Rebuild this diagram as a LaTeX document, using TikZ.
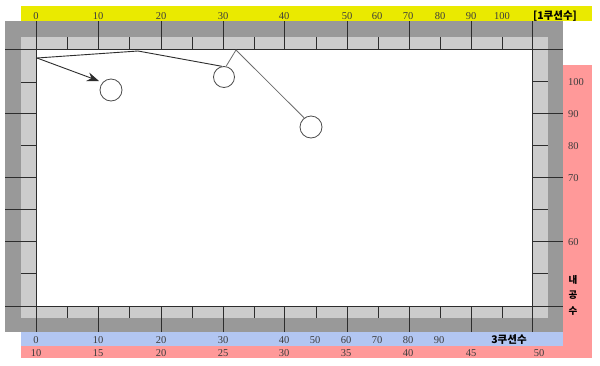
\documentclass[tikz,border=0pt]{standalone}
\usepackage{fontspec}
\setmainfont{Liberation Serif}
\newfontfamily\kr{Noto Sans CJK KR}
\usetikzlibrary{arrows.meta}
\definecolor{dg}{RGB}{153,153,153}
\definecolor{lg}{RGB}{204,204,204}
\definecolor{yb}{RGB}{234,234,0}
\definecolor{pk}{RGB}{255,153,153}
\definecolor{bl}{RGB}{178,198,242}
\definecolor{ln}{RGB}{45,45,45}
\definecolor{tx}{RGB}{60,60,60}
\tikzset{
 tk/.style={draw=ln, line width=0.9pt},
 numlab/.style={font=\fontsize{10.5}{12}\selectfont, text=tx, inner sep=0pt, anchor=base},
 krlab/.style={font=\kr\bfseries\fontsize{10.5}{12}\selectfont, inner sep=0pt, anchor=base},
 vlab/.style={font=\kr\bfseries\fontsize{9.5}{11}\selectfont, inner sep=0pt, anchor=center},
 ball/.style={circle, draw=ln!85, line width=0.8pt, minimum size=22pt, inner sep=0pt},
 pathA/.style={draw=ln, line width=0.9pt},
 pathB/.style={draw=ln!70, line width=0.8pt},
}
\begin{document}
\begin{tikzpicture}[x=1pt,y=-1pt]
\useasboundingbox[fill=white] (0,0) rectangle (600,365);
% colour bands
\fill[yb] (21,6) rectangle (592,21);
\fill[pk] (563,65) rectangle (592,358);
\fill[pk] (21,346) rectangle (592,358);
\fill[bl] (21,332) rectangle (563,346);
% frame
\fill[dg] (5,21) rectangle (563,332);
\fill[lg] (21,37) rectangle (548,318);
\fill[white] (36,49) rectangle (532,306);
% frame lines
\draw[tk] (5,49) -- (563,49);
\draw[tk] (5,306) -- (563,306);
\draw[tk] (36,21) -- (36,332);
\draw[tk] (532,21) -- (532,332);
\foreach \x in {98,161,223,284,347,409,471} {
  \draw[tk] (\x,21) -- (\x,49);
  \draw[tk] (\x,306) -- (\x,332);
}
\foreach \x in {67,129,192,254,316,378,440,502} {
  \draw[tk] (\x,37) -- (\x,49);
  \draw[tk] (\x,306) -- (\x,318);
}
\foreach \y in {113,177,209,241} \draw[tk] (5,\y) -- (36,\y);
\foreach \y in {82,145,273} \draw[tk] (21,\y) -- (36,\y);
\foreach \y in {113,177,241} \draw[tk] (532,\y) -- (563,\y);
\foreach \y in {81,145,209,273} \draw[tk] (532,\y) -- (548,\y);
% top labels
\foreach \x/\t [count=\i] in {36/0,98/10,161/20,223/30,284/40,347/50,377/60,408/70,440/80,471/90,502/100}
  \node[numlab, name=top\i] at (\x,19) {\t};
\node[krlab, text=black] (toptitle) at (555,19) {[1쿠션수]};
% blue labels
\foreach \x/\t [count=\i] in {36/0,98/10,161/20,223/30,284/40,315/50,346/60,377/70,408/80,439/90}
  \node[numlab, name=blu\i] at (\x,343) {\t};
\node[krlab, text=black] (blutitle) at (509,343) {3쿠션수};
% pink labels
\foreach \x/\t [count=\i] in {36/10,98/15,161/20,223/25,284/30,346/35,408/40,471/45,539/50}
  \node[numlab, name=pnk\i] at (\x,356.5) {\t};
\foreach \y/\t [count=\i] in {85.5/100,117/90,149/80,181/70,245/60}
  \node[numlab, anchor=base west, name=rgt\i] at (568,\y) {\t};
\node[vlab] (v1) at (573,279.5) {내};
\node[vlab] (v2) at (573,295) {공};
\node[vlab] (v3) at (573,311) {수};
% balls and paths
\coordinate (s) at (37,58);
\coordinate (t) at (99,81);
\coordinate (p1) at (138,51);
\coordinate (p2) at (236,50);
\node[ball] (c1) at (111,90) {};
\node[ball, minimum size=21pt] (c2) at (224,77) {};
\node[ball] (c3) at (311,127) {};
\draw[pathA] (s) -- (p1) -- (c2.101);
\draw[pathB] (c2.79) -- (p2) -- (c3.127);
\draw[pathA, -{Stealth[length=12pt,width=9pt,inset=4pt]}] (s) -- (t);
\end{tikzpicture}
\end{document}
